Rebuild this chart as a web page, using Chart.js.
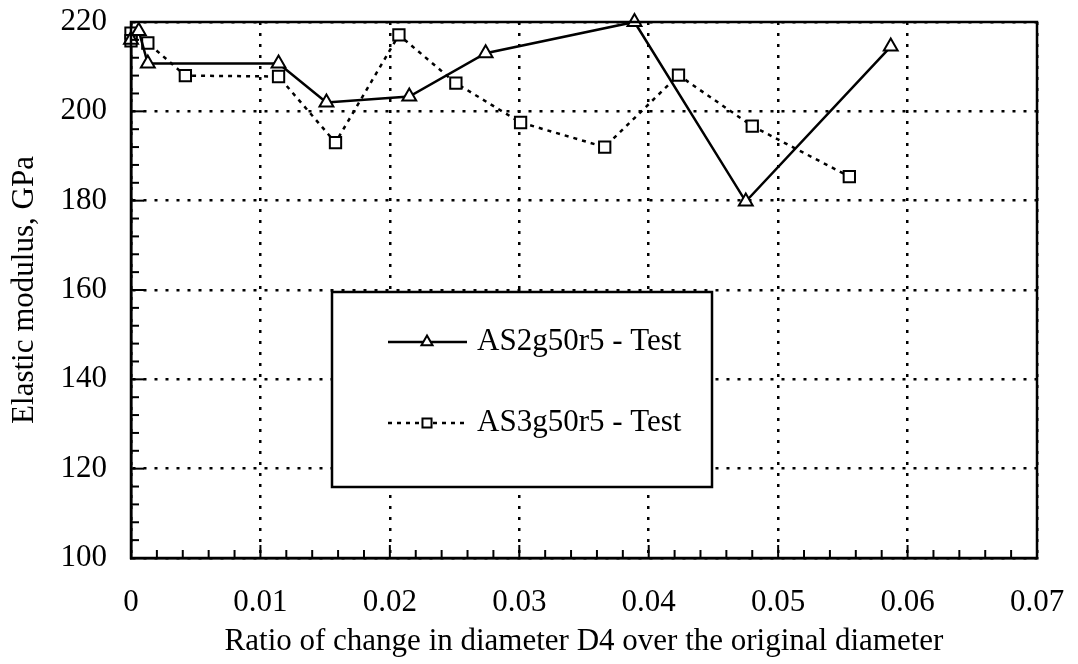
<!DOCTYPE html>
<html>
<head>
<meta charset="utf-8">
<script src="https://cdn.jsdelivr.net/npm/chart.js@4/dist/chart.umd.min.js"></script>
<style>
  body { margin: 0; background: #fff; }
</style>
</head>
<body>
<canvas id="modulusChart" width="1078" height="664"></canvas>
<script>
// --- data ---
const as2Label = 'AS2g50r5 - Test';
const as2Ratio = [0, 0.0006, 0.0013, 0.0114, 0.0151, 0.0215, 0.0274, 0.0389, 0.0475, 0.0587];
const as2Modulus = [216, 218, 210.7, 210.7, 202, 203.3, 213, 220, 179.8, 214.5];

const as3Label = 'AS3g50r5 - Test';
const as3Ratio = [0, 0, 0.0013, 0.0042, 0.0114, 0.0158, 0.0207, 0.0251, 0.0301, 0.0366, 0.0423, 0.048, 0.0555];
const as3Modulus = [217.5, 215.8, 215.3, 208, 207.8, 193, 217.1, 206.3, 197.5, 192, 208.1, 196.7, 185.4];

const xTitle = 'Ratio of change in diameter D4 over the original diameter';
const yTitle = 'Elastic modulus, GPa';

const serif = "'Liberation Serif', 'Times New Roman', serif";
const fontPx = 31;

const toPoints = (xs, ys) => xs.map((x, i) => ({ x: x, y: ys[i] }));

// frame + inward tick marks like the original plot
const framePlugin = {
    id: 'frameTicks',
    afterDraw(chart) {
        const { ctx, chartArea: a, scales } = chart;
        ctx.save();
        ctx.strokeStyle = '#000';
        ctx.lineWidth = 2;
        // minor ticks on bottom axis every 0.002
        for (let i = 0; i <= 35; i++) {
            const px = scales.x.getPixelForValue(i * 0.002);
            const len = (i % 5 === 0) ? 13 : 8;
            ctx.beginPath();
            ctx.moveTo(px, a.bottom);
            ctx.lineTo(px, a.bottom - len);
            ctx.stroke();
        }
        // minor ticks on left axis every 4 GPa
        for (let v = 100; v <= 220; v += 4) {
            const py = scales.y.getPixelForValue(v);
            const len = ((v - 100) % 20 === 0) ? 13 : 8;
            ctx.beginPath();
            ctx.moveTo(a.left, py);
            ctx.lineTo(a.left + len, py);
            ctx.stroke();
        }
        ctx.lineWidth = 2.5;
        ctx.strokeRect(a.left, a.top, a.right - a.left, a.bottom - a.top);
        ctx.restore();
    }
};

// boxed legend sitting inside the plot
const legendBoxPlugin = {
    id: 'legendBox',
    afterDraw(chart) {
        const { ctx } = chart;
        const box = { left: 332, top: 292, right: 712, bottom: 487 };
        ctx.save();
        ctx.fillStyle = '#fff';
        ctx.fillRect(box.left, box.top, box.right - box.left, box.bottom - box.top);
        ctx.strokeStyle = '#000';
        ctx.lineWidth = 2.5;
        ctx.strokeRect(box.left, box.top, box.right - box.left, box.bottom - box.top);

        const rows = [342, 423];
        chart.data.datasets.forEach((ds, i) => {
            const y = rows[i];
            ctx.beginPath();
            ctx.lineWidth = ds.borderWidth;
            ctx.setLineDash(ds.borderDash || []);
            ctx.moveTo(388, y);
            ctx.lineTo(467, y);
            ctx.stroke();
            ctx.setLineDash([]);
            ctx.fillStyle = '#fff';
            ctx.lineWidth = ds.pointBorderWidth;
            Chart.helpers.drawPoint(ctx, {
                pointStyle: ds.pointStyle, radius: ds.pointRadius * 0.8,
                borderWidth: ds.pointBorderWidth, rotation: 0
            }, 427, y);
            ctx.fillStyle = '#000';
            ctx.font = fontPx + 'px ' + serif;
            ctx.textBaseline = 'middle';
            ctx.textAlign = 'left';
            ctx.fillText(ds.label, 477, y);
        });
        ctx.restore();
    }
};

const chart = new Chart(document.getElementById('modulusChart'), {
    type: 'scatter',
    data: {
        datasets: [{
            label: as2Label,
            data: toPoints(as2Ratio, as2Modulus),
            showLine: true,
            borderColor: '#000',
            borderWidth: 2.5,
            pointStyle: 'triangle',
            pointRadius: 8,
            pointBorderWidth: 2,
            pointBackgroundColor: '#fff',
            pointBorderColor: '#000',
            clip: false
        }, {
            label: as3Label,
            data: toPoints(as3Ratio, as3Modulus),
            showLine: true,
            borderColor: '#000',
            borderWidth: 2.5,
            borderDash: [4, 5],
            pointStyle: 'rect',
            pointRadius: 8,
            pointBorderWidth: 2,
            pointBackgroundColor: '#fff',
            pointBorderColor: '#000',
            clip: false
        }]
    },
    options: {
        responsive: false,
        animation: false,
        layout: { padding: { left: 0, top: 22, right: 41, bottom: 4 } },
        plugins: {
            legend: { display: false },
            tooltip: { enabled: false }
        },
        scales: {
            x: {
                type: 'linear',
                min: 0,
                max: 0.07,
                // fixed box height, and no extra room for overflowing end labels
                afterFit: (s) => { s.height = 102; s.paddingLeft = 0; s.paddingRight = 0; },
                ticks: {
                    stepSize: 0.01,
                    padding: 26,
                    color: '#000',
                    font: { family: serif, size: fontPx },
                    maxRotation: 0,
                    callback: (v) => v === 0 ? '0' : Number(v).toFixed(2)
                },
                grid: { color: '#000', lineWidth: 2.5, drawTicks: false },
                border: { display: true, color: '#000', width: 2.5, dash: [3, 8] },
                title: {
                    display: true,
                    text: xTitle,
                    color: '#000',
                    font: { family: serif, size: fontPx },
                    padding: { top: 0, bottom: 0 }
                }
            },
            y: {
                min: 100,
                max: 220,
                afterFit: (s) => { s.width = 131; s.paddingTop = 0; s.paddingBottom = 0; },
                ticks: {
                    stepSize: 20,
                    padding: 24,
                    color: '#000',
                    font: { family: serif, size: fontPx }
                },
                grid: { color: '#000', lineWidth: 2.5, drawTicks: false },
                border: { display: true, color: '#000', width: 2.5, dash: [3, 8] },
                title: {
                    display: true,
                    text: yTitle,
                    color: '#000',
                    font: { family: serif, size: fontPx },
                    padding: { top: 6, bottom: 0 }
                }
            }
        }
    },
    plugins: [framePlugin, legendBoxPlugin]
});
</script>
</body>
</html>
